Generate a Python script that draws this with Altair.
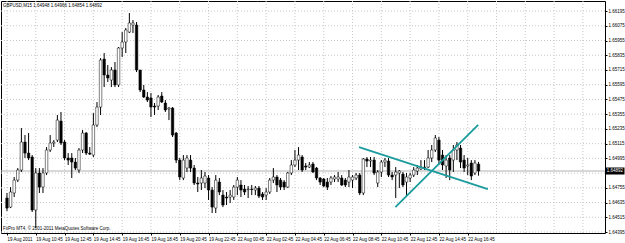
import json
import altair as alt
import pandas as pd

# ---------------- data ----------------
opens = [1.64672, 1.64598, 1.64713, 1.64818, 1.64900, 1.65128, 1.65038, 1.65006, 1.64574, 1.64876,
         1.64761, 1.64876, 1.65063, 1.65120, 1.65144, 1.65299, 1.65128, 1.64998, 1.64998, 1.64965,
         1.64900, 1.65063, 1.65201, 1.65038, 1.65022, 1.65267, 1.65413, 1.65804, 1.65674, 1.65633,
         1.65715, 1.65593, 1.65894, 1.65943, 1.66024, 1.66081, 1.66081, 1.65715, 1.65552, 1.65495,
         1.65487, 1.65421, 1.65421, 1.65503, 1.65446, 1.65397, 1.65405, 1.65201, 1.64981, 1.64835,
         1.64916, 1.64981, 1.64916, 1.64794, 1.64794, 1.64794, 1.64835, 1.64737, 1.64590, 1.64802,
         1.64696, 1.64680, 1.64680, 1.64680, 1.64761, 1.64778, 1.64745, 1.64741, 1.64745, 1.64737,
         1.64753, 1.64705, 1.64696, 1.64721, 1.64818, 1.64843, 1.64818, 1.64802, 1.64761, 1.64876,
         1.64941, 1.64981, 1.65006, 1.64933, 1.64924, 1.64949, 1.64916, 1.64835, 1.64827, 1.64802,
         1.64802, 1.64827, 1.64827, 1.64835, 1.64818, 1.64802, 1.64818, 1.64835, 1.64859, 1.64713,
         1.64990, 1.64973, 1.64981, 1.64794, 1.64884, 1.64965, 1.64973, 1.64859, 1.64859, 1.64876,
         1.64867, 1.64802, 1.64835, 1.64859, 1.64892, 1.64908, 1.64924, 1.64924, 1.64998, 1.65063,
         1.65144, 1.65022, 1.64933, 1.64998, 1.64981, 1.65063, 1.65079, 1.64981, 1.64933, 1.64957,
         1.64876, 1.64948]
closes = [1.64590, 1.64721, 1.64818, 1.64900, 1.65128, 1.65038, 1.64998, 1.64574, 1.64876, 1.64761,
          1.64876, 1.65063, 1.65120, 1.65128, 1.65307, 1.65120, 1.64998, 1.64981, 1.64965, 1.64916,
          1.65063, 1.65201, 1.65038, 1.65030, 1.65267, 1.65413, 1.65796, 1.65674, 1.65650, 1.65715,
          1.65593, 1.65894, 1.65943, 1.66041, 1.66098, 1.66098, 1.65715, 1.65552, 1.65495, 1.65470,
          1.65413, 1.65413, 1.65495, 1.65454, 1.65389, 1.65405, 1.65185, 1.64981, 1.64843, 1.64981,
          1.64998, 1.64916, 1.64794, 1.64786, 1.64835, 1.64851, 1.64737, 1.64598, 1.64818, 1.64721,
          1.64615, 1.64672, 1.64696, 1.64761, 1.64818, 1.64737, 1.64721, 1.64745, 1.64741, 1.64753,
          1.64688, 1.64680, 1.64721, 1.64818, 1.64843, 1.64778, 1.64761, 1.64761, 1.64876, 1.64941,
          1.64981, 1.65022, 1.64900, 1.64924, 1.64941, 1.64884, 1.64835, 1.64802, 1.64770, 1.64761,
          1.64835, 1.64843, 1.64843, 1.64778, 1.64778, 1.64843, 1.64843, 1.64859, 1.64713, 1.64990,
          1.64973, 1.64981, 1.64876, 1.64884, 1.64965, 1.64981, 1.64859, 1.64843, 1.64884, 1.64892,
          1.64778, 1.64843, 1.64859, 1.64900, 1.64916, 1.64924, 1.64920, 1.64998, 1.65063, 1.65161,
          1.64981, 1.64941, 1.64981, 1.64900, 1.65063, 1.65104, 1.64965, 1.64916, 1.64941, 1.64851,
          1.64957, 1.64892]
highs = [1.64713, 1.64761, 1.64843, 1.64916, 1.65242, 1.65185, 1.65201, 1.65022, 1.64916, 1.64916,
         1.64916, 1.65087, 1.65185, 1.65144, 1.65348, 1.65373, 1.65144, 1.65038, 1.65038, 1.64998,
         1.65079, 1.65226, 1.65210, 1.65087, 1.65364, 1.65454, 1.65812, 1.65853, 1.65755, 1.65739,
         1.65780, 1.65902, 1.66024, 1.66057, 1.66179, 1.66122, 1.66106, 1.65715, 1.65593, 1.65535,
         1.65527, 1.65446, 1.65511, 1.65535, 1.65470, 1.65413, 1.65413, 1.65210, 1.64998, 1.65022,
         1.65022, 1.65022, 1.64941, 1.64843, 1.64900, 1.64884, 1.64859, 1.64761, 1.64859, 1.64835,
         1.64737, 1.64721, 1.64737, 1.64778, 1.64843, 1.64818, 1.64778, 1.64770, 1.64778, 1.64770,
         1.64770, 1.64721, 1.64753, 1.64835, 1.64916, 1.64859, 1.64835, 1.64818, 1.64884, 1.64981,
         1.65063, 1.65087, 1.65022, 1.64957, 1.64965, 1.64965, 1.64924, 1.64843, 1.64835, 1.64835,
         1.64851, 1.64859, 1.64884, 1.64859, 1.64835, 1.64900, 1.64859, 1.64876, 1.64876, 1.64998,
         1.65006, 1.65006, 1.65006, 1.64900, 1.64981, 1.64998, 1.64998, 1.64884, 1.64924, 1.64900,
         1.64884, 1.64876, 1.64876, 1.64924, 1.64941, 1.64981, 1.64981, 1.65063, 1.65104, 1.65185,
         1.65169, 1.65063, 1.65022, 1.65022, 1.65104, 1.65128, 1.65104, 1.65022, 1.64998, 1.64981,
         1.64981, 1.64966]
lows = [1.64566, 1.64590, 1.64680, 1.64802, 1.64884, 1.64998, 1.64981, 1.64558, 1.64428, 1.64713,
        1.64713, 1.64859, 1.65047, 1.65087, 1.65128, 1.65104, 1.64981, 1.64941, 1.64835, 1.64900,
        1.64876, 1.65038, 1.65022, 1.65022, 1.65006, 1.65250, 1.65348, 1.65576, 1.65617, 1.65576,
        1.65576, 1.65576, 1.65821, 1.65853, 1.66016, 1.66016, 1.65698, 1.65535, 1.65487, 1.65454,
        1.65332, 1.65348, 1.65389, 1.65446, 1.65373, 1.65307, 1.65169, 1.64957, 1.64818, 1.64818,
        1.64884, 1.64884, 1.64778, 1.64721, 1.64737, 1.64753, 1.64656, 1.64550, 1.64550, 1.64696,
        1.64598, 1.64615, 1.64631, 1.64656, 1.64696, 1.64680, 1.64696, 1.64672, 1.64696, 1.64696,
        1.64672, 1.64656, 1.64656, 1.64705, 1.64794, 1.64721, 1.64737, 1.64737, 1.64753, 1.64859,
        1.64924, 1.64900, 1.64884, 1.64900, 1.64916, 1.64876, 1.64818, 1.64778, 1.64761, 1.64737,
        1.64778, 1.64802, 1.64802, 1.64770, 1.64761, 1.64761, 1.64753, 1.64818, 1.64696, 1.64696,
        1.64924, 1.64924, 1.64859, 1.64761, 1.64843, 1.64924, 1.64843, 1.64818, 1.64672, 1.64753,
        1.64761, 1.64680, 1.64802, 1.64843, 1.64859, 1.64900, 1.64900, 1.64916, 1.64965, 1.65047,
        1.64941, 1.64900, 1.64835, 1.64818, 1.64884, 1.64981, 1.64916, 1.64884, 1.64859, 1.64818,
        1.64859, 1.64854]

time_labels = ["19 Aug 2011", "19 Aug 10:45", "19 Aug 12:45", "19 Aug 14:45", "19 Aug 16:45",
               "19 Aug 18:45", "19 Aug 20:45", "19 Aug 22:45", "22 Aug 00:45", "22 Aug 02:45",
               "22 Aug 04:45", "22 Aug 06:45", "22 Aug 08:45", "22 Aug 10:45", "22 Aug 12:45",
               "22 Aug 14:45", "22 Aug 16:45"]
bars_per_label = 8
price_levels = [1.64395, 1.64515, 1.64635, 1.64755, 1.64875, 1.64995, 1.65115, 1.65235,
                1.65355, 1.65475, 1.65595, 1.65715, 1.65835, 1.65955, 1.66075, 1.66195]
last_price = 1.64892
header_text = "GBPUSD,M15  1.64948 1.64966 1.64854 1.64892"
copyright_text = "FxPro MT4, \u00a9 2001-2011 MetaQuotes Software Corp."

trend_id = ["down", "down", "up", "up"]
trend_bar = [97.8, 133.6, 107.9, 130.9]
trend_price = [1.65087, 1.64745, 1.64598, 1.65267]

# ---------------- chart ----------------
W, H = 604, 232
FONT = "Liberation Sans"
FS = 4.5

df = pd.DataFrame({"bar": list(range(len(opens))), "open": opens, "high": highs,
                   "low": lows, "close": closes})
trend_df = pd.DataFrame({"id": trend_id, "bar": trend_bar, "price": trend_price})

XS = alt.Scale(domain=[-0.273, 164.75], nice=False, zero=False)
YS = alt.Scale(domain=[1.64387, 1.66277], nice=False, zero=False)

label_bars = [i * bars_per_label for i in range(len(time_labels))]
grid_bars = [i * bars_per_label for i in range(21)]

XA = alt.Axis(values=label_bars, labelExpr=json.dumps(time_labels) + "[round(datum.value/8)]",
              labelAlign="left", labelFontSize=FS, labelFont=FONT, labelColor="black",
              tickSize=2, tickColor="black", labelPadding=1, domain=False, grid=False,
              title=None, labelOverlap=False, labelBound=False, labelFlush=False)
YA = alt.Axis(values=[p for p in price_levels if abs(p - 1.64875) > 1e-6], format=".5f",
              orient="right", labelFontSize=FS, labelFont=FONT, labelColor="black",
              tickSize=2, tickColor="black", labelPadding=1, domain=False, grid=False,
              title=None, labelOverlap=False, labelBound=False, labelFlush=False)


def X(field):
    return alt.X(field, scale=XS, axis=XA, title=None)


def Y(field):
    return alt.Y(field, scale=YS, axis=YA, title=None)


grid_color = "#c8c8c8"
hgrid = alt.Chart(pd.DataFrame({"p": price_levels})).mark_rule(
    color=grid_color, strokeDash=[1, 2], strokeWidth=1
).encode(y=Y("p:Q"))

vgrid = alt.Chart(pd.DataFrame({"b": grid_bars})).mark_rule(
    color=grid_color, strokeDash=[1, 2], strokeWidth=1
).encode(x=X("b:Q"))

bid = alt.Chart(pd.DataFrame({"p": [last_price]})).mark_rule(
    color="#b0b0b0", strokeWidth=1
).encode(y=Y("p:Q"))

base = alt.Chart(df)
wicks = base.mark_rule(color="black", strokeWidth=1).encode(
    x=X("bar:Q"), y=Y("low:Q"), y2="high:Q",
)
bodies = base.mark_bar(size=2.5, stroke="black", strokeWidth=0.5, orient="vertical").encode(
    x=X("bar:Q"), y=Y("open:Q"), y2="close:Q",
    fill=alt.condition("datum.close >= datum.open", alt.value("white"), alt.value("black")),
)

trend = alt.Chart(trend_df).mark_line(color="#1c9c9e", strokeWidth=1.8).encode(
    x=X("bar:Q"), y=Y("price:Q"), detail="id:N",
)

lp_df = pd.DataFrame({"p": [last_price], "t": [f"{last_price:.5f}"]})
lp_box = alt.Chart(lp_df).mark_tick(color="black", orient="horizontal", size=19, thickness=7,
                                    opacity=1).encode(x=alt.value(614), y=Y("p:Q"))
lp_text = alt.Chart(lp_df).mark_text(color="white", fontSize=FS, font=FONT, align="center",
                                     baseline="middle").encode(
    x=alt.value(614), y=Y("p:Q"), text="t:N")

header = alt.Chart(pd.DataFrame({"t": [header_text]})).mark_text(
    align="left", baseline="middle", fontSize=FS, font=FONT, color="black"
).encode(x=alt.value(2), y=alt.value(5), text="t:N")
copyright_ = alt.Chart(pd.DataFrame({"t": [copyright_text]})).mark_text(
    align="left", baseline="middle", fontSize=FS, font=FONT, color="black"
).encode(x=alt.value(2), y=alt.value(228), text="t:N")

chart = alt.layer(hgrid, vgrid, bid, wicks, bodies, trend, lp_box, lp_text, header, copyright_).properties(
    width=W, height=H,
    padding={"left": 1, "top": 1, "right": 20, "bottom": 10},
    autosize=alt.AutoSizeParams(type="none"),
    background="white",
).configure_view(stroke="black", strokeWidth=1)

chart.save("out.html", embed_options={"renderer": "svg", "actions": False})
